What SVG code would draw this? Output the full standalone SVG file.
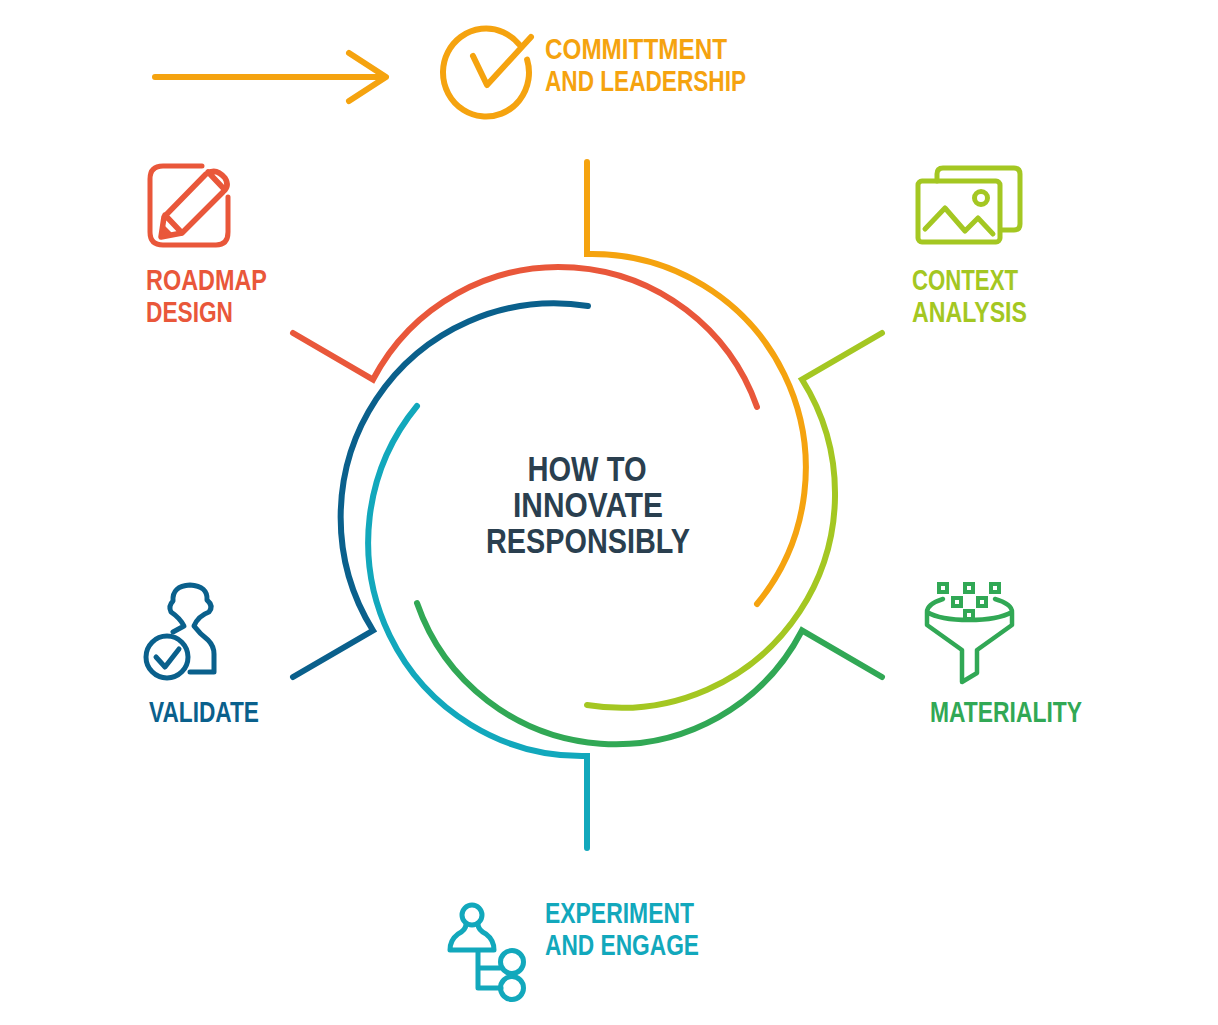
<svg xmlns="http://www.w3.org/2000/svg" width="1218" height="1025" viewBox="0 0 1218 1025">
<style>
.c{fill:none;stroke-width:6;stroke-linecap:round;stroke-linejoin:miter;stroke-miterlimit:8}
.i{fill:none;stroke-width:5;stroke-linecap:round;stroke-linejoin:round}
.t{font-family:"Liberation Sans Narrow","Liberation Sans",Arial,sans-serif;font-weight:700;font-size:29px}
.m{font-family:"Liberation Sans Narrow","Liberation Sans",Arial,sans-serif;font-weight:700;font-size:35px;fill:#2a3f4f}
.or{stroke:#f5a30f}.re{stroke:#e9573a}.li{stroke:#a4c722}.gr{stroke:#31a855}.te{stroke:#12a8bc}.bl{stroke:#0a608c}
</style>
<rect width="1218" height="1025" fill="#fff"/>
<g id="connectors">
<path class="c or" d="M587 162V254A214 214 0 0 1 757 604"/>
<path class="c li" d="M882 333L802 379.500A214 214 0 0 1 587 705"/>
<path class="c gr" d="M882 677L802 630.500A210 210 0 0 1 417 603"/>
<path class="c te" d="M587 848V756A214 214 0 0 1 417 406"/>
<path class="c bl" d="M293 677L373 630.500A214 214 0 0 1 588 306"/>
<path class="c re" d="M293 333L373 379.500A210 210 0 0 1 757 407"/>
</g>
<g id="start-arrow"><path class="i or" style="stroke-width:6" d="M155 77H385M349 53L386 77L349 101"/></g>
<g id="center"><text class="m" text-anchor="middle"><tspan x="587" y="481" textLength="119" lengthAdjust="spacingAndGlyphs">HOW TO</tspan><tspan x="588" y="517" textLength="150" lengthAdjust="spacingAndGlyphs">INNOVATE</tspan><tspan x="588" y="553" textLength="204" lengthAdjust="spacingAndGlyphs">RESPONSIBLY</tspan></text></g>
<g id="commitment">
<path class="i or" d="M518.900 44.200A43 44 0 1 0 527.100 59.600" style="stroke-width:6"/><path class="i or" d="M473 56L487 85L531 37" style="stroke-width:6"/>
<text class="t" fill="#f5a30f" x="545" y="59" textLength="182" lengthAdjust="spacingAndGlyphs">COMMITTMENT</text><text class="t" fill="#f5a30f" x="545" y="91" textLength="201" lengthAdjust="spacingAndGlyphs">AND LEADERSHIP</text>
</g>
<g id="roadmap">
<path class="i re" d="M202 166H163Q150 166 150 179V232Q150 245 163 245H216Q228 245 228 232V197"/>
<path class="i re" d="M161 237L164 217L206 174Q216 167 225 178Q230 186 223 192L182 233ZM165 215L182 233M208 172L225 190" style="stroke-width:5.500"/>
<path d="M160 238L164 225L174 235Z" fill="#e9573a"/>
<text class="t" fill="#e9573a" x="146" y="290" textLength="121" lengthAdjust="spacingAndGlyphs">ROADMAP</text><text class="t" fill="#e9573a" x="146" y="322" textLength="87" lengthAdjust="spacingAndGlyphs">DESIGN</text>
</g>
<g id="context">
<path class="i li" d="M937 181V174Q937 168 943 168H1014Q1020 168 1020 174V224Q1020 230 1014 230H1002"/>
<rect class="i li" x="918" y="181" width="82" height="61" rx="4"/>
<circle class="i li" cx="981" cy="198" r="6.500"/>
<path class="i li" d="M925 229L945 208L965 231L978 218L993 234"/>
<text class="t" fill="#a4c722" x="912" y="290" textLength="106" lengthAdjust="spacingAndGlyphs">CONTEXT</text><text class="t" fill="#a4c722" x="912" y="322" textLength="115" lengthAdjust="spacingAndGlyphs">ANALYSIS</text>
</g>
<g id="materiality">
<path class="i gr" d="M943 599Q927 604 927 612V625L962 650V682L977 673V650L1012 625V612Q1012 604 995 599M927 612Q940 620 969 620Q998 620 1012 612" style="stroke-width:4.500"/>
<g class="gr" fill="none" stroke-width="4"><rect x="939" y="584" width="8" height="8"/><rect x="965" y="584" width="8" height="8"/><rect x="991" y="584" width="8" height="8"/><rect x="953" y="598" width="8" height="8"/><rect x="978" y="598" width="8" height="8"/><rect x="965" y="611" width="8" height="8"/></g>
<text class="t" fill="#31a855" x="930" y="722" textLength="152" lengthAdjust="spacingAndGlyphs">MATERIALITY</text>
</g>
<g id="validate">
<path class="i bl" d="M173 632L184 626Q180 618 171 612Q168 606 173 601Q172 586 190 585Q208 586 207 600Q214 606 209 612Q198 616 194 626Q200 634 208 640Q214 646 214 654V672H190"/>
<circle class="i bl" cx="167" cy="657" r="21"/>
<path class="i bl" d="M156 657L165 667L179 649"/>
<text class="t" fill="#0a608c" x="149" y="722" textLength="110" lengthAdjust="spacingAndGlyphs">VALIDATE</text>
</g>
<g id="experiment">
<circle class="i te" cx="472" cy="915" r="10"/>
<path class="i te" d="M466 924Q466 930 458 934Q450 940 450 950H494Q494 940 486 934Q478 930 478 924"/>
<path class="i te" d="M478 951V988H501M478 968H500"/>
<circle class="i te" cx="512" cy="962" r="11.500"/><circle class="i te" cx="512" cy="988" r="11.500"/>
<text class="t" fill="#12a8bc" x="545" y="923" textLength="149" lengthAdjust="spacingAndGlyphs">EXPERIMENT</text><text class="t" fill="#12a8bc" x="545" y="955" textLength="154" lengthAdjust="spacingAndGlyphs">AND ENGAGE</text>
</g>
</svg>
